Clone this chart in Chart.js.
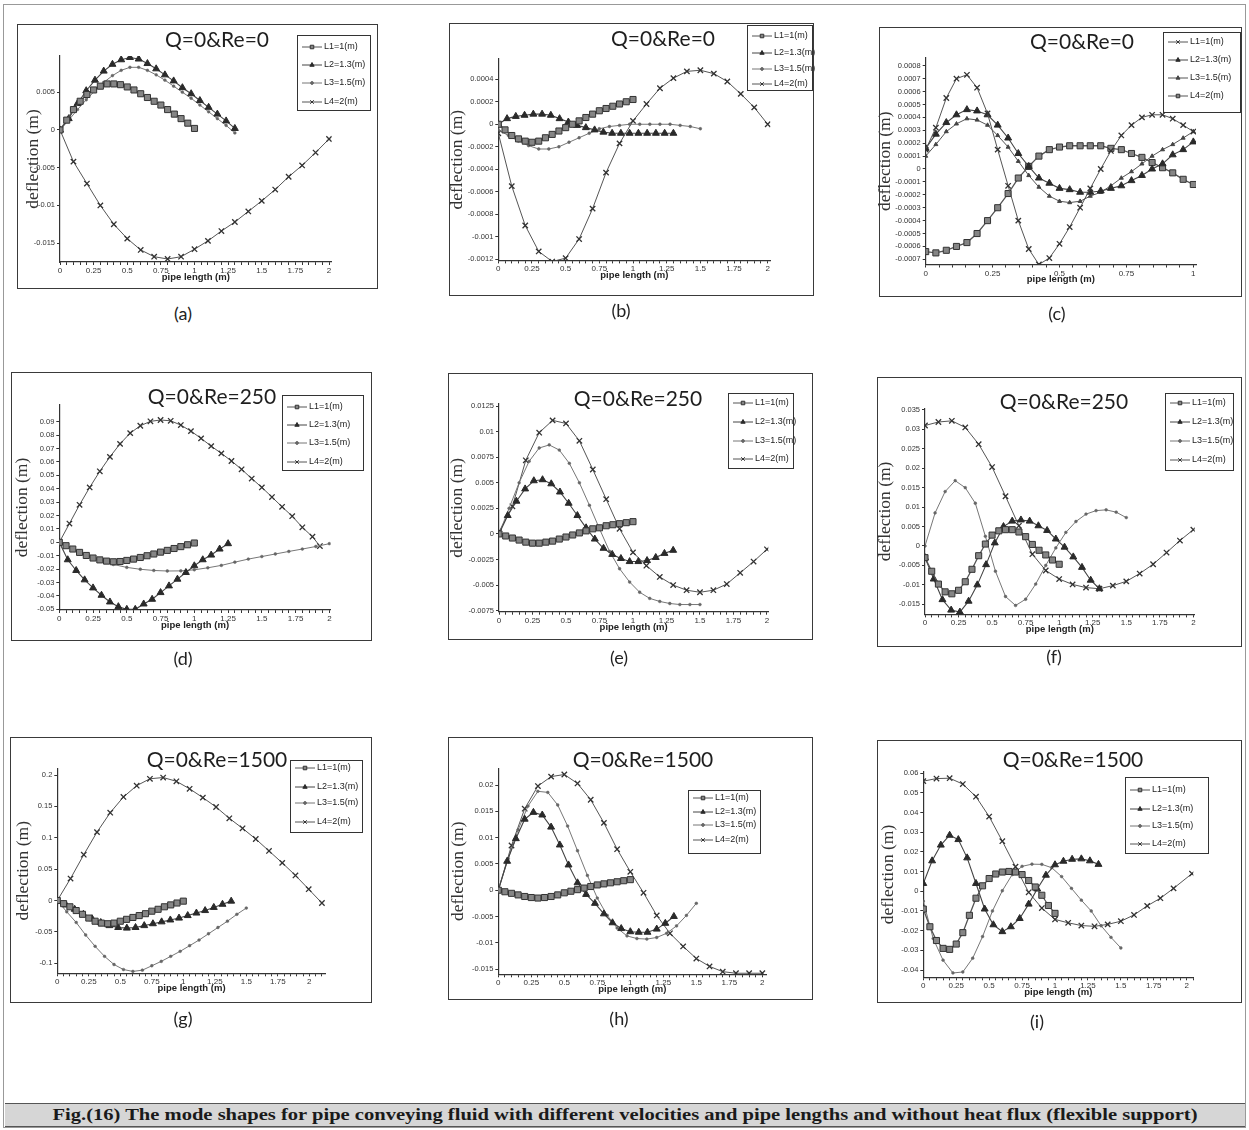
<!DOCTYPE html>
<html>
<head>
<meta charset="utf-8">
<script src="https://cdn.jsdelivr.net/npm/chart.js@4.4.1/dist/chart.umd.min.js"></script>
<style>
body{margin:0;background:#fff;width:1249px;height:1130px;position:relative;overflow:hidden;font-family:"Liberation Sans",Arial,sans-serif}
#page{position:absolute;left:3px;top:4px;width:1243px;height:1124px;border:1px solid #999;box-sizing:border-box}
.frame{position:absolute;border:1.5px solid #3a3a3a;box-sizing:border-box;pointer-events:none}
canvas{position:absolute}
.ttl{position:absolute;font-family:Lato,"Open Sans",sans-serif;font-size:21px;color:#1e1e1e;transform:translate(-50%,-50%);white-space:nowrap}
.lab{position:absolute;font-family:Lato,"Open Sans",sans-serif;font-size:18px;color:#222;transform:translate(-50%,-50%);white-space:nowrap}
#cap{position:absolute;left:5px;top:1103px;width:1240px;height:24px;background:#d6d6d6;border-top:1.5px solid #555;border-bottom:1.5px solid #555;box-sizing:border-box}
#capText{position:absolute;left:50%;top:50%;font-family:"Liberation Serif","Times New Roman",serif;font-weight:bold;font-size:17px;color:#1a1a1a;white-space:nowrap;transform-origin:center center}
</style>
</head>
<body>
<div id="page"></div>
<div id="cap"><span id="capText">Fig.(16) The mode shapes for pipe conveying fluid with different velocities and pipe lengths and without heat flux (flexible support)</span></div>
<script>
// x grids (pipe length, m)
const X10 = [0,0.05,0.1,0.15,0.2,0.25,0.3,0.35,0.4,0.45,0.5,0.55,0.6,0.65,0.7,0.75,0.8,0.85,0.9,0.95,1];
const X13 = [0,0.065,0.13,0.195,0.26,0.325,0.39,0.455,0.52,0.585,0.65,0.715,0.78,0.845,0.91,0.975,1.04,1.105,1.17,1.235,1.3];
const X133 = [0,0.067,0.133,0.2,0.266,0.333,0.4,0.466,0.532,0.6,0.665,0.732,0.8,0.865,0.931,1,1.064,1.13,1.2,1.265,1.33];
const X125 = [0,0.0625,0.125,0.1875,0.25,0.3125,0.375,0.4375,0.5,0.5625,0.625,0.6875,0.75,0.8125,0.875,0.9375,1,1.0625,1.125,1.1875,1.25];
const X138 = [0,0.069,0.138,0.207,0.276,0.345,0.414,0.483,0.552,0.621,0.69,0.759,0.828,0.897,0.966,1.035,1.104,1.173,1.242,1.311,1.38];
const X15 = [0,0.075,0.15,0.225,0.3,0.375,0.45,0.525,0.6,0.675,0.75,0.825,0.9,0.975,1.05,1.125,1.2,1.275,1.35,1.425,1.5];
const X20 = [0,0.1,0.2,0.3,0.4,0.5,0.6,0.7,0.8,0.9,1,1.1,1.2,1.3,1.4,1.5,1.6,1.7,1.8,1.9,2];
const X204 = [0,0.1,0.2,0.3,0.4,0.5,0.6,0.7,0.8,0.9,1,1.1,1.2,1.3,1.4,1.5,1.6,1.7,1.8,1.9,2.04];
const X21 = [0,0.105,0.21,0.315,0.42,0.525,0.63,0.735,0.84,0.945,1.05,1.155,1.26,1.365,1.47,1.575,1.68,1.785,1.89,1.995,2.1];
const X193 = [0,0.075,0.15,0.225,0.3,0.375,0.45,0.525,0.6,0.675,0.75,0.825,0.9,0.975,1.05,1.125,1.2,1.275,1.35,1.425,1.5,1.575,1.65,1.725,1.8,1.875,1.93];
const X27 = [0,0.038,0.077,0.115,0.154,0.192,0.231,0.269,0.308,0.346,0.385,0.423,0.462,0.5,0.538,0.577,0.615,0.654,0.692,0.731,0.769,0.808,0.846,0.885,0.923,0.962,1];

const seriesNames = ['L1=1(m)', 'L2=1.3(m)', 'L3=1.5(m)', 'L4=2(m)'];
const xMajor2 = [0,0.25,0.5,0.75,1,1.25,1.5,1.75,2];
const xMajor1 = [0,0.25,0.5,0.75,1];

// (a) Q=0 Re=0
const aL1 = [0,0.0013,0.0027,0.0038,0.0047,0.0053,0.0058,0.0061,0.0061,0.006,0.0057,0.0053,0.0048,0.0043,0.0038,0.0033,0.0027,0.0021,0.0015,0.0009,0.0002];
const aL2 = [0,0.0015,0.0035,0.0052,0.0066,0.0078,0.0087,0.0093,0.0096,0.0094,0.0088,0.0081,0.0073,0.0065,0.0056,0.0048,0.0039,0.003,0.0021,0.0012,0.0002];
const aL3 = [0,0.0013,0.0027,0.004,0.0052,0.0063,0.0072,0.0079,0.0083,0.0083,0.0079,0.0073,0.0066,0.0058,0.005,0.0042,0.0033,0.0024,0.0015,0.0006,-0.0004];
const aL4 = [0,-0.0042,-0.0071,-0.01,-0.0125,-0.0144,-0.0159,-0.0168,-0.0171,-0.0168,-0.0158,-0.0147,-0.0134,-0.0122,-0.0108,-0.0094,-0.0079,-0.0062,-0.0047,-0.003,-0.0012];
const aYTicks = [0.005,0,-0.005,-0.01,-0.015];

// (b) Q=0 Re=0
const bL1 = [0,-0.00005,-0.0001,-0.00013,-0.00015,-0.00016,-0.00015,-0.00012,-0.00009,-0.00006,-0.00003,0,0.00003,0.00006,0.00009,0.00012,0.00014,0.00016,0.00018,0.0002,0.00022];
const bL2 = [0,0.00005,0.00007,0.00008,0.00009,0.00009,0.00008,0.00005,0.00002,-0.00001,-0.00003,-0.00005,-0.00007,-0.00008,-0.00008,-0.00008,-0.00008,-0.00008,-0.00008,-0.00008,-0.00008];
const bL3 = [-0.00005,-0.0001,-0.00015,-0.00019,-0.00022,-0.00022,-0.0002,-0.00016,-0.00012,-0.00008,-0.00004,-0.00002,-0.00001,0,0,0,0,0,-0.00001,-0.00002,-0.00004];
const bL4 = [-0.00008,-0.00055,-0.0009,-0.00113,-0.00122,-0.00119,-0.00102,-0.00075,-0.00043,-0.00017,0.00003,0.00018,0.00032,0.00041,0.00047,0.00048,0.00045,0.00038,0.00027,0.00015,0];
const bYTicks = [0.0004,0.0002,0,-0.0002,-0.0004,-0.0006,-0.0008,-0.001,-0.0012];

// (c) Q=0 Re=0
const cL1 = [0.00015,0.00032,0.00055,0.0007,0.00073,0.00063,0.00043,0.00015,-0.00013,-0.0004,-0.00062,-0.00074,-0.00069,-0.00058,-0.00045,-0.0003,-0.00015,0,0.00014,0.00026,0.00034,0.0004,0.00042,0.00042,0.00039,0.00034,0.00029];
const cL2 = [0.00016,0.00027,0.00036,0.00042,0.00046,0.00045,0.00042,0.00034,0.00024,0.00012,0.00002,-0.00007,-0.00011,-0.00015,-0.00016,-0.00018,-0.00018,-0.00017,-0.00015,-0.00013,-0.00009,-0.00005,0,0.00004,0.00011,0.00015,0.00021];
const cL3 = [0.0001,0.00019,0.00029,0.00035,0.00039,0.00038,0.00034,0.00026,0.00017,0.00006,-0.00005,-0.00014,-0.00021,-0.00025,-0.00026,-0.00025,-0.00021,-0.00018,-0.00013,-0.00007,-0.00002,0.00004,0.0001,0.00015,0.00019,0.00024,0.00029];
const cL4 = [-0.00064,-0.00065,-0.00063,-0.0006,-0.00057,-0.0005,-0.0004,-0.0003,-0.00019,-0.00007,0.00002,0.0001,0.00015,0.00017,0.00018,0.00018,0.00018,0.00018,0.00016,0.00015,0.00012,0.00009,0.00005,0.00001,-0.00003,-0.00008,-0.00012];
const cYTicks = [0.0008,0.0007,0.0006,0.0005,0.0004,0.0003,0.0002,0.0001,0,-0.0001,-0.0002,-0.0003,-0.0004,-0.0005,-0.0006,-0.0007];

// (d) Q=0 Re=250
const dL1 = [0,-0.0025,-0.005,-0.0075,-0.0098,-0.0117,-0.0131,-0.014,-0.0145,-0.0143,-0.0135,-0.0125,-0.0113,-0.01,-0.0087,-0.0073,-0.006,-0.0046,-0.0032,-0.0018,-0.0005];
const dL2 = [0,-0.013,-0.021,-0.028,-0.034,-0.0395,-0.0445,-0.048,-0.05,-0.05,-0.046,-0.0425,-0.0375,-0.0325,-0.0275,-0.0225,-0.0175,-0.013,-0.0095,-0.005,-0.001];
const dL3 = [0,-0.005,-0.0095,-0.0135,-0.0165,-0.0187,-0.0201,-0.021,-0.0214,-0.0213,-0.0205,-0.019,-0.0172,-0.0148,-0.0125,-0.0106,-0.0087,-0.0068,-0.005,-0.0031,-0.001];
const dL4 = [0,0.014,0.028,0.041,0.053,0.0638,0.0735,0.0815,0.087,0.0903,0.0913,0.0907,0.0875,0.083,0.0776,0.0718,0.0664,0.0607,0.0545,0.0476,0.041,0.0338,0.0265,0.0195,0.0112,0.0042,-0.0028];
const dYTicks = [0.09,0.08,0.07,0.06,0.05,0.04,0.03,0.02,0.01,0,-0.01,-0.02,-0.03,-0.04,-0.05];

// (e) Q=0 Re=250
const eL1 = [0,-0.0002,-0.0004,-0.0006,-0.0008,-0.0009,-0.0009,-0.0008,-0.0007,-0.0005,-0.0003,-0.0001,0.0001,0.0003,0.0005,0.0006,0.0008,0.0009,0.001,0.0011,0.0012];
const eL2 = [0,0.0018,0.0032,0.0044,0.0052,0.0053,0.0049,0.0041,0.003,0.0018,0.0006,-0.0005,-0.0014,-0.002,-0.0024,-0.0027,-0.0027,-0.0026,-0.0023,-0.0019,-0.0016];
const eL3 = [0,0.0025,0.005,0.0071,0.0084,0.0087,0.0082,0.0069,0.005,0.0028,0.0005,-0.0017,-0.0034,-0.0047,-0.0057,-0.0063,-0.0066,-0.0068,-0.0069,-0.0069,-0.0069];
const eL4 = [0.0002,0.0027,0.0072,0.0099,0.0111,0.0108,0.0091,0.0063,0.0034,0.0005,-0.0018,-0.0031,-0.0042,-0.005,-0.0055,-0.0057,-0.0055,-0.0049,-0.0038,-0.0027,-0.0015];
const eYTicks = [0.0125,0.01,0.0075,0.005,0.0025,0,-0.0025,-0.005,-0.0075];

// (f) Q=0 Re=250
const fL1 = [-0.003,-0.0065,-0.0098,-0.0118,-0.0123,-0.0114,-0.0092,-0.006,-0.0025,0.0005,0.0028,0.0039,0.0042,0.0042,0.0036,0.0024,0.0004,-0.0011,-0.0023,-0.0036,-0.0047];
const fL2 = [-0.003,-0.0085,-0.0138,-0.0165,-0.017,-0.0142,-0.01,-0.0048,0.0008,0.005,0.0064,0.0067,0.0064,0.0052,0.004,0.0018,-0.0003,-0.0028,-0.0055,-0.0088,-0.011];
const fL3 = [0,0.0085,0.014,0.0168,0.015,0.011,0.0025,-0.0065,-0.013,-0.0153,-0.0137,-0.0098,-0.005,-0.0005,0.0035,0.0063,0.0082,0.0091,0.0093,0.0087,0.0073];
const fL4 = [0.031,0.0319,0.0322,0.0305,0.0262,0.0203,0.0128,0.0052,-0.0021,-0.0063,-0.0085,-0.0099,-0.0107,-0.011,-0.0102,-0.0091,-0.0071,-0.0047,-0.0017,0.0014,0.0042];
const fYTicks = [0.035,0.03,0.025,0.02,0.015,0.01,0.005,0,-0.005,-0.01,-0.015];

// (g) Q=0 Re=1500
const gL1 = [0,-0.005,-0.01,-0.016,-0.022,-0.028,-0.033,-0.036,-0.037,-0.036,-0.033,-0.03,-0.027,-0.024,-0.021,-0.017,-0.014,-0.01,-0.007,-0.004,-0.001];
const gL2 = [0,-0.007,-0.014,-0.022,-0.029,-0.035,-0.04,-0.043,-0.044,-0.043,-0.04,-0.037,-0.034,-0.031,-0.028,-0.024,-0.02,-0.016,-0.011,-0.006,-0.001];
const gL3 = [0,-0.018,-0.035,-0.055,-0.073,-0.089,-0.102,-0.11,-0.113,-0.111,-0.104,-0.097,-0.089,-0.081,-0.072,-0.063,-0.053,-0.043,-0.033,-0.022,-0.012];
const gL4 = [0,0.035,0.073,0.109,0.14,0.165,0.183,0.194,0.196,0.19,0.178,0.164,0.149,0.131,0.115,0.098,0.079,0.06,0.04,0.018,-0.004];
const gYTicks = [0.2,0.15,0.1,0.05,0,-0.05,-0.1];

// (h) Q=0 Re=1500
const hL1 = [0,-0.0003,-0.0006,-0.0009,-0.0012,-0.0014,-0.0015,-0.0014,-0.0012,-0.0009,-0.0005,-0.0002,0.0001,0.0004,0.0007,0.001,0.0012,0.0014,0.0016,0.0018,0.002];
const hL2 = [0,0.0055,0.0098,0.0135,0.0148,0.0143,0.012,0.0086,0.0048,0.0014,-0.0008,-0.0025,-0.0045,-0.0062,-0.0073,-0.0079,-0.008,-0.008,-0.0074,-0.0063,-0.005];
const hL3 = [0,0.006,0.0115,0.016,0.0188,0.0186,0.0162,0.0122,0.0075,0.0028,-0.0015,-0.0048,-0.0072,-0.0087,-0.0092,-0.0093,-0.009,-0.0082,-0.0068,-0.0048,-0.0025];
const hL4 = [0,0.0085,0.0155,0.0198,0.0216,0.022,0.0203,0.0172,0.0128,0.0078,0.0035,-0.0005,-0.0048,-0.0082,-0.0107,-0.013,-0.0145,-0.0155,-0.0158,-0.0158,-0.0158];
const hYTicks = [0.02,0.015,0.01,0.005,0,-0.005,-0.01,-0.015];

// (i) Q=0 Re=1500
const iL1 = [-0.009,-0.018,-0.025,-0.029,-0.0295,-0.0268,-0.021,-0.0122,-0.0035,0.0028,0.0065,0.0088,0.0098,0.0101,0.0098,0.0085,0.0055,0.0022,-0.002,-0.0072,-0.0112];
const iL2 = [0.004,0.0155,0.0235,0.0285,0.0263,0.017,0.004,-0.009,-0.017,-0.0205,-0.018,-0.0138,-0.0065,0.0012,0.0082,0.0135,0.0153,0.0163,0.0165,0.0155,0.0137];
const iL3 = [-0.005,-0.024,-0.035,-0.0415,-0.041,-0.034,-0.023,-0.01,0.0003,0.0085,0.0127,0.0138,0.0137,0.012,0.0075,0.0015,-0.0045,-0.01,-0.0175,-0.0234,-0.0288];
const iL4 = [0.056,0.0573,0.0575,0.0545,0.0481,0.038,0.0255,0.0125,-0.0005,-0.0085,-0.0143,-0.016,-0.0174,-0.0178,-0.0168,-0.0152,-0.012,-0.0074,-0.0035,0.0015,0.009];
const iYTicks = [0.06,0.05,0.04,0.03,0.02,0.01,0,-0.01,-0.02,-0.03,-0.04];

// marker looks
const ST = {
  sq:  {pointStyle:'rect', pointRadius:4.3, pointBackgroundColor:'#858585', pointBorderColor:'#333', pointBorderWidth:1, borderColor:'#555', borderWidth:1.3},
  tri: {pointStyle:'triangle', pointRadius:4, pointBackgroundColor:'#2a2a2a', pointBorderColor:'#2a2a2a', pointBorderWidth:1, borderColor:'#444', borderWidth:1.1},
  triS:{pointStyle:'triangle', pointRadius:2.3, pointBackgroundColor:'#444', pointBorderColor:'#444', pointBorderWidth:1, borderColor:'#555', borderWidth:1},
  dot: {pointStyle:'circle', pointRadius:1.4, pointBackgroundColor:'#666', pointBorderColor:'#666', pointBorderWidth:0.5, borderColor:'#777', borderWidth:1},
  crs: {pointStyle:'crossRot', pointRadius:3.8, pointBackgroundColor:'#333', pointBorderColor:'#333', pointBorderWidth:1.3, borderColor:'#555', borderWidth:1}
};

const std = ['sq','tri','dot','crs'];
const panels = [
  {title:'Q=0&Re=0', tx:217, ty:38, label:'(a)', lx:183, ly:313, frame:[17,24,378,289], plot:[60,56,331.7,262], yW:36.6,
   xMax:2.02, xMajor:xMajor2, yMin:-0.0175, yMax:0.0098, yTicks:aYTicks,
   series:[[X10,aL1],[X13,aL2],[X13,aL3],[X20,aL4]], styles:std,
   legend:{x:297,y:35,w:73,h:75,rows:[47,65,83,102]}},
  {title:'Q=0&Re=0', tx:663, ty:37, label:'(b)', lx:621, ly:310, frame:[449,23,814,296], plot:[498.3,59,770.4,260.4], yW:50.9,
   xMax:2.02, xMajor:xMajor2, yMin:-0.00121, yMax:0.00058, yTicks:bYTicks,
   series:[[X10,bL1],[X13,bL2],[X15,bL3],[X20,bL4]], styles:std,
   legend:{x:747,y:25,w:65,h:65,rows:[36,53,69,84]}},
  {title:'Q=0&Re=0', tx:1082, ty:40, label:'(c)', lx:1057, ly:313, frame:[879,27,1242,297], plot:[925.7,58,1196,264.5], yW:50.3,
   xMax:1.01, xMajor:xMajor1, yMin:-0.00074, yMax:0.00086, yTicks:cYTicks,
   series:[[X27,cL1],[X27,cL2],[X27,cL3],[X27,cL4]], styles:['crs','tri','triS','sq'],
   legend:{x:1163,y:32,w:77,h:80,rows:[42,60,78,96]}},
  {title:'Q=0&Re=250', tx:212, ty:395, label:'(d)', lx:183, ly:658, frame:[11,372,372,641], plot:[59.3,405,330.7,610], yW:46.9,
   xMax:2.01, xMajor:xMajor2, yMin:-0.0505, yMax:0.1025, yTicks:dYTicks,
   series:[[X10,dL1],[X125,dL2],[X20,dL3],[X193,dL4]], styles:std,
   legend:{x:282,y:395,w:81,h:75,rows:[407,425,443,462]}},
  {title:'Q=0&Re=250', tx:638, ty:397, label:'(e)', lx:619, ly:657, frame:[448,373,813,640], plot:[499,404,768.3,611.7], yW:51.6,
   xMax:2.01, xMajor:xMajor2, yMin:-0.0076, yMax:0.0127, yTicks:eYTicks,
   series:[[X10,eL1],[X13,eL2],[X15,eL3],[X20,eL4]], styles:std,
   legend:{x:728,y:393,w:65,h:75,rows:[403,422,441,459]}},
  {title:'Q=0&Re=250', tx:1064, ty:400, label:'(f)', lx:1054, ly:656, frame:[877,377,1242,647], plot:[925,408.4,1194.7,614.4], yW:49.6,
   xMax:2.01, xMajor:xMajor2, yMin:-0.0176, yMax:0.0354, yTicks:fYTicks,
   series:[[X10,fL1],[X13,fL2],[X15,fL3],[X20,fL4]], styles:std,
   legend:{x:1165,y:393,w:68,h:77,rows:[403,422,441,460]}},
  {title:'Q=0&Re=1500', tx:217, ty:758, label:'(g)', lx:183, ly:1018, frame:[10,737,372,1003], plot:[57.3,768.3,325.7,973.3], yW:43.9,
   xMax:2.13, xMajor:xMajor2, yMin:-0.116, yMax:0.2107, yTicks:gYTicks,
   series:[[X10,gL1],[X138,gL2],[X15,gL3],[X21,gL4]], styles:std,
   legend:{x:290,y:760,w:72,h:72,rows:[768,787,803,822]}},
  {title:'Q=0&Re=1500', tx:643, ty:758, label:'(h)', lx:619, ly:1018, frame:[448,737,813,1000], plot:[498.3,768.2,766.3,974.3], yW:49.9,
   xMax:2.03, xMajor:xMajor2, yMin:-0.016, yMax:0.0232, yTicks:hYTicks,
   series:[[X10,hL1],[X133,hL2],[X15,hL3],[X20,hL4]], styles:std,
   legend:{x:688,y:790,w:72,h:63,rows:[798,812,825,840]}},
  {title:'Q=0&Re=1500', tx:1073, ty:758, label:'(i)', lx:1037, ly:1021, frame:[877,740,1242,1003], plot:[923.3,771.7,1193.3,977.3], yW:44.9,
   xMax:2.05, xMajor:xMajor2, yMin:-0.0437, yMax:0.0608, yTicks:iYTicks,
   series:[[X10,iL1],[X133,iL2],[X15,iL3],[X204,iL4]], styles:std,
   legend:{x:1125,y:777,w:83,h:76,rows:[790,809,826,844]}}
];

Chart.defaults.font.family = '"Liberation Sans", Arial, sans-serif';
Chart.defaults.color = '#333';

const boxLegend = {
  id: 'boxLegend',
  afterDraw(chart, args, o) {
    const ctx = chart.ctx, b = o.box;
    ctx.save();
    ctx.strokeStyle = '#333';
    ctx.lineWidth = 1;
    ctx.strokeRect(b.x + 0.5, b.y + 0.5, b.w, b.h);
    ctx.font = '9px "Liberation Sans", Arial, sans-serif';
    ctx.textBaseline = 'middle';
    chart.data.datasets.forEach((ds, i) => {
      const y = b.rows[i];
      ctx.strokeStyle = ds.borderColor;
      ctx.lineWidth = 1;
      ctx.beginPath();
      ctx.moveTo(b.x + 5, y);
      ctx.lineTo(b.x + 25, y);
      ctx.stroke();
      ctx.fillStyle = ds.pointBackgroundColor;
      ctx.strokeStyle = ds.pointBorderColor;
      Chart.helpers.drawPoint(ctx, {pointStyle: ds.pointStyle, radius: Math.min(ds.pointRadius, 2.5), rotation: 0, borderWidth: 1}, b.x + 15, y);
      ctx.fillStyle = '#222';
      ctx.fillText(ds.label, b.x + 27, y);
    });
    ctx.restore();
  }
};

const XH = 21;
panels.forEach(p => {
  const [fl, ft, fr, fb] = p.frame;
  const cl = fl - 8, ct = ft - 8, cw = Math.round(fr - fl + 16), ch = Math.round(fb - ft + 16);
  const cv = document.createElement('canvas');
  cv.width = cw; cv.height = ch;
  cv.style.left = cl + 'px'; cv.style.top = ct + 'px';
  document.body.appendChild(cv);

  const box = document.createElement('div');
  box.className = 'frame';
  Object.assign(box.style, {left: fl + 'px', top: ft + 'px', width: (fr - fl) + 'px', height: (fb - ft) + 'px'});
  document.body.appendChild(box);

  const t = document.createElement('div');
  t.className = 'ttl'; t.textContent = p.title;
  t.style.left = p.tx + 'px'; t.style.top = p.ty + 'px';
  document.body.appendChild(t);

  const l = document.createElement('div');
  l.className = 'lab'; l.textContent = p.label;
  l.style.left = p.lx + 'px'; l.style.top = p.ly + 'px';
  document.body.appendChild(l);

  const [pl, pt, pr, pb] = p.plot;
  const pad = {left: pl - cl - p.yW, top: pt - ct, right: cl + cw - pr, bottom: ct + ch - pb - XH};

  const datasets = p.series.map((s, i) => Object.assign({
    label: seriesNames[i],
    data: s[0].map((x, k) => ({x: x, y: s[1][k]})),
    showLine: true, tension: 0
  }, ST[p.styles[i]]));

  const lg = p.legend;
  new Chart(cv, {
    type: 'scatter',
    data: {datasets: datasets},
    plugins: [boxLegend],
    options: {
      responsive: false, animation: false, devicePixelRatio: 1,
      layout: {padding: pad},
      plugins: {
        legend: {display: false}, title: {display: false}, tooltip: {enabled: false},
        boxLegend: {box: {x: lg.x - cl, y: lg.y - ct, w: lg.w, h: lg.h, rows: lg.rows.map(r => r - ct)}}
      },
      scales: {
        x: {
          type: 'linear', min: 0, max: p.xMax,
          grid: {drawOnChartArea: false, tickLength: 3, color: '#333'},
          border: {color: '#333', width: 1.2},
          ticks: {autoSkip: false, maxRotation: 0, padding: 1, font: {size: 8}, color: '#333',
                  callback: v => p.xMajor.includes(v) ? String(v) : ''},
          afterBuildTicks: s => {
            const tk = [];
            for (let k = 0; k * 0.05 <= p.xMax + 1e-9; k++) tk.push({value: Math.round(k * 5) / 100});
            s.ticks = tk;
          },
          afterFit: s => { s.height = XH; },
          title: {display: true, text: 'pipe length (m)', font: {size: 9.5, weight: 'bold'}, color: '#222', padding: 0}
        },
        y: {
          type: 'linear', min: p.yMin, max: p.yMax,
          grid: {drawOnChartArea: false, tickLength: 3, color: '#333'},
          border: {color: '#333', width: 1.2},
          ticks: {autoSkip: false, padding: 2, font: {size: 7.5}, color: '#333', callback: v => String(v)},
          afterBuildTicks: s => { s.ticks = p.yTicks.map(v => ({value: v})); },
          afterFit: s => { s.width = p.yW; },
          title: {display: true, text: 'deflection (m)', font: {family: '"Liberation Serif", "Times New Roman", serif', size: 17.5}, color: '#333', padding: 0}
        }
      }
    }
  });
});

// fit caption text to its printed width
const capText = document.getElementById('capText');
const w = capText.getBoundingClientRect().width;
capText.style.transform = 'translate(-50%,-50%) scaleX(' + (1145 / w) + ')';
</script>
</body>
</html>
